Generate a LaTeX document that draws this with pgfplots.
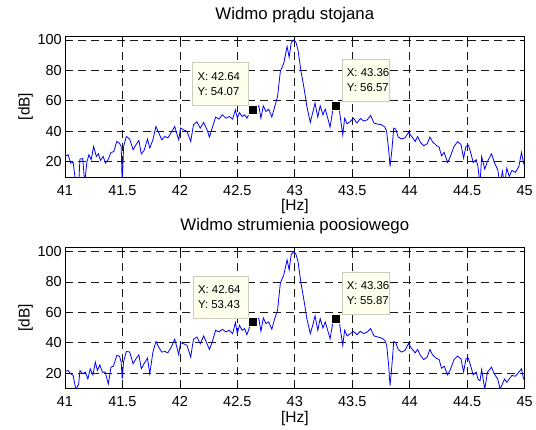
\documentclass[border=0pt]{standalone}
\usepackage{fontspec}
\setmainfont{Liberation Sans}
\usepackage{pgfplots}
\usepackage{pgfplotstable}
\pgfplotsset{compat=1.18}
\definecolor{tipfill}{RGB}{255,255,238}
\definecolor{tipedge}{RGB}{205,205,190}
\definecolor{mblue}{RGB}{0,0,255}

\pgfplotstableread{
f db
41.000 23.5
41.027 24.6
41.050 19.1
41.071 19.6
41.095 5
41.119 5
41.130 21.7
41.154 22.2
41.172 6
41.190 19.6
41.208 24.6
41.228 21.3
41.249 30.1
41.273 23.5
41.291 25.2
41.308 20.9
41.332 23.5
41.353 19.1
41.377 21.7
41.400 26.1
41.424 26.6
41.451 33.3
41.474 32.2
41.489 30.0
41.498 5
41.510 30.0
41.534 36.6
41.563 34.9
41.593 27.9
41.617 31.1
41.643 34.0
41.664 25.2
41.688 27.4
41.718 34.9
41.738 29.0
41.765 34.4
41.792 43.2
41.815 39.2
41.842 34.4
41.869 36.6
41.895 35.7
41.925 39.2
41.955 43.2
41.973 38.4
41.990 34.4
42.005 42.1
42.032 41.0
42.062 39.9
42.094 33.3
42.118 44.3
42.148 46.2
42.177 42.1
42.207 45.8
42.236 41.0
42.257 36.2
42.281 42.1
42.311 49.3
42.340 48.0
42.370 50.8
42.400 48.6
42.430 49.7
42.459 48.0
42.483 54.1
42.500 48.6
42.518 52.3
42.542 49.7
42.563 50.8
42.583 48.6
42.607 52.3
42.640 54.07
42.666 55.8
42.687 56.7
42.705 48.6
42.726 56.7
42.749 53.0
42.773 54.5
42.800 49.3
42.824 55.8
42.850 62.8
42.874 79.2
42.904 84.7
42.933 95.6
42.951 88.6
42.969 98.3
42.993 100.0
43.010 98.3
43.028 93.4
43.052 80.3
43.082 67.6
43.105 56.3
43.135 45.8
43.156 52.3
43.176 58.5
43.200 49.3
43.221 56.7
43.245 50.8
43.265 54.5
43.289 48.0
43.307 42.7
43.331 54.1
43.360 56.57
43.385 55.5
43.417 37.7
43.434 48.6
43.455 44.9
43.482 46.4
43.511 48.6
43.541 45.4
43.571 48.4
43.600 46.7
43.630 47.5
43.660 50.4
43.689 45.4
43.722 44.7
43.755 44.3
43.784 42.7
43.799 39.9
43.817 27.9
43.829 16.9
43.844 26.8
43.861 42.1
43.879 41.4
43.900 36.2
43.930 34.9
43.959 35.7
43.989 39.2
44.018 36.6
44.048 33.3
44.069 36.6
44.093 32.7
44.122 30.5
44.152 31.8
44.176 36.2
44.199 33.1
44.229 30.9
44.256 29.6
44.277 23.9
44.300 26.1
44.330 19.6
44.354 23.5
44.386 30.1
44.416 33.1
44.446 31.4
44.469 22.4
44.490 30.1
44.511 30.9
44.534 25.2
44.552 19.6
44.579 21.3
44.594 16.9
44.612 5
44.626 23.5
44.653 15.2
44.677 20.2
44.712 25.2
44.736 19.6
44.766 14.8
44.787 5
44.807 13.7
44.825 5
44.845 15.8
44.866 10.4
44.890 14.3
44.920 13.0
44.950 16.9
44.973 26.1
44.991 19.1
45.000 17.4
}\topdata

\pgfplotstableread{
f db
41.000 21.1
41.027 21.8
41.050 19.6
41.071 18.5
41.095 9.2
41.119 12.9
41.130 21.8
41.154 19.6
41.178 20.7
41.199 16.2
41.220 22.9
41.243 18.9
41.264 27.3
41.282 21.8
41.303 25.5
41.326 20.7
41.350 20.7
41.377 12.9
41.400 24.0
41.421 24.6
41.451 31.7
41.474 31.2
41.489 27.3
41.498 16.2
41.510 27.7
41.534 34.3
41.563 33.9
41.593 26.2
41.617 29.5
41.643 32.1
41.664 22.9
41.688 26.2
41.718 29.9
41.738 19.6
41.765 33.9
41.792 40.9
41.815 37.2
41.842 33.9
41.869 34.3
41.895 33.4
41.925 37.2
41.955 42.3
41.973 37.2
41.990 32.1
42.005 40.0
42.032 39.4
42.062 38.3
42.094 30.6
42.118 42.3
42.148 43.8
42.177 39.4
42.207 44.5
42.236 39.4
42.257 35.6
42.281 40.5
42.311 48.2
42.340 47.1
42.370 48.9
42.400 47.1
42.430 48.2
42.459 46.0
42.483 53.3
42.500 46.0
42.518 51.5
42.542 48.2
42.563 49.3
42.583 45.3
42.607 50.4
42.640 53.43
42.666 55.9
42.687 55.9
42.705 47.5
42.726 56.4
42.749 52.6
42.773 53.7
42.800 48.9
42.824 55.5
42.850 61.4
42.874 79.1
42.904 84.6
42.933 94.5
42.951 87.9
42.969 98.2
42.993 100.0
43.010 98.2
43.028 93.4
43.052 80.2
43.082 66.9
43.105 55.9
43.135 46.0
43.156 51.5
43.176 57.7
43.200 48.2
43.221 55.9
43.245 49.7
43.265 53.7
43.289 47.5
43.307 42.7
43.331 53.3
43.360 55.87
43.385 55.0
43.417 38.3
43.434 48.2
43.455 44.5
43.482 46.0
43.511 47.5
43.541 45.3
43.571 47.5
43.600 46.0
43.630 47.1
43.660 49.3
43.689 44.5
43.722 43.8
43.755 43.1
43.784 41.6
43.799 38.7
43.817 25.1
43.829 11.8
43.844 24.0
43.861 40.9
43.879 40.0
43.900 35.6
43.930 33.9
43.959 35.0
43.989 39.4
44.018 36.1
44.048 33.4
44.069 35.6
44.093 31.7
44.122 29.0
44.152 30.6
44.176 35.6
44.199 32.1
44.229 29.9
44.256 29.0
44.277 23.3
44.300 24.6
44.330 18.9
44.354 22.4
44.386 29.0
44.416 31.2
44.446 29.5
44.469 20.7
44.490 29.5
44.511 29.9
44.534 24.0
44.552 18.9
44.579 20.7
44.594 16.2
44.612 15.0
44.626 22.4
44.653 9.5
44.677 20.7
44.712 24.0
44.736 19.6
44.766 16.2
44.787 9.6
44.807 12.9
44.825 16.2
44.845 14.0
44.866 16.2
44.890 18.5
44.920 18.0
44.950 20.7
44.973 22.9
44.991 16.2
45.000 16.2
}\botdata

\pgfplotsset{
  spec/.style={
    scale only axis, width=459.6pt,
    xmin=41, xmax=45, ymin=10, ymax=102.5,
    xtick={41,41.5,42,42.5,43,43.5,44,44.5,45},
    xticklabels={41,41.5,42,42.5,43,43.5,44,44.5,45},
    ytick={20,40,60,80,100},
    yticklabels={20,40,60,80,100},
    grid=major,
    major grid style={black!90, line width=0.6pt, dash pattern=on 8pt off 5pt},
    axis line style={black, line width=0.8pt},
    tick align=inside, major tick length=4.5pt,
    tick style={black, line width=0.6pt},
    /pgf/number format/assume math mode=true,
    ticklabel style={font=\fontsize{14.5}{16}\selectfont},
    xticklabel style={anchor=base, yshift=-18pt},
    yticklabel style={anchor=east, inner sep=0pt, xshift=-3pt},
    title style={at={(axis description cs:0.5,1.078)}, anchor=base, font=\fontsize{16.8}{18}\selectfont},
    xlabel style={at={(axis description cs:0.5,-0.241)}, anchor=base, font=\fontsize{15.5}{17}\selectfont},
    ylabel style={at={(axis description cs:-0.077,0.5)}, anchor=base, font=\fontsize{15.5}{17}\selectfont},
    xlabel={[Hz]}, ylabel={[dB]},
  },
  tipmark/.style={only marks, mark=square*, mark size=4.5pt, mark options={fill=black, draw=tipfill, line width=1pt}},
}
\tikzset{
  tipbox/.style={draw=tipedge, fill=tipfill, line width=0.6pt, inner sep=0pt},
  tiptext/.style={anchor=west, inner sep=0pt, align=left, font=\fontsize{11.4}{15}\selectfont},
}

\begin{document}
\begin{tikzpicture}
\path[use as bounding box] (0pt,0pt) rectangle (536pt,-429pt);

\begin{axis}[spec, height=141pt, at={(65pt,-36pt)}, anchor=north west,
  title={Widmo prądu stojana}]
\addplot[mblue, line width=0.8pt] table[x=f, y=db] {\topdata};
\node[tipbox, minimum width=55.5pt, minimum height=43pt, anchor=south east, xshift=-5pt, yshift=4pt] (a1) at (axis cs:42.64,54.07) {};
\node[tiptext] at ([xshift=5pt]a1.west) {X: 42.64\\Y: 54.07};
\node[tipbox, minimum width=47pt, minimum height=42pt, anchor=south west, xshift=5.5pt, yshift=4.5pt] (a2) at (axis cs:43.36,56.57) {};
\node[tiptext] at ([xshift=5pt]a2.west) {X: 43.36\\Y: 56.57};
\addplot[tipmark] coordinates {(42.64,54.07) (43.36,56.57)};
\end{axis}

\begin{axis}[spec, height=140.7pt, at={(65pt,-247.7pt)}, anchor=north west,
  title={Widmo strumienia poosiowego}]
\addplot[mblue, line width=0.8pt] table[x=f, y=db] {\botdata};
\node[tipbox, minimum width=55.5pt, minimum height=42pt, anchor=south east, xshift=-4.5pt, yshift=4pt] (b1) at (axis cs:42.64,53.43) {};
\node[tiptext] at ([xshift=5pt]b1.west) {X: 42.64\\Y: 53.43};
\node[tipbox, minimum width=47pt, minimum height=42pt, anchor=south west, xshift=5.5pt, yshift=4.3pt] (b2) at (axis cs:43.36,55.87) {};
\node[tiptext] at ([xshift=5pt]b2.west) {X: 43.36\\Y: 55.87};
\addplot[tipmark] coordinates {(42.64,53.43) (43.36,55.87)};
\end{axis}
\end{tikzpicture}
\end{document}
